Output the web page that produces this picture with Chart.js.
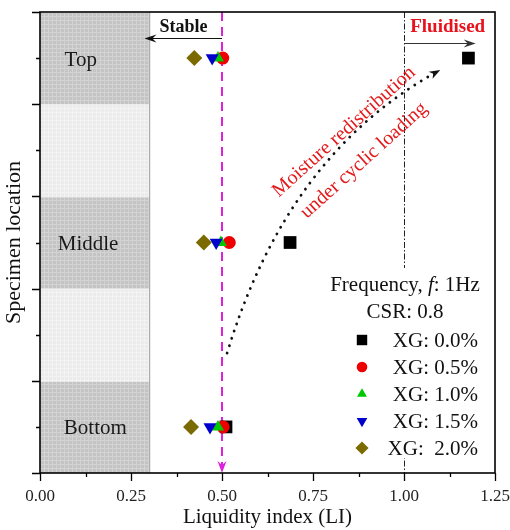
<!DOCTYPE html>
<html>
<head>
<meta charset="utf-8">
<script src="https://cdn.jsdelivr.net/npm/chart.js@4.4.0/dist/chart.umd.min.js"></script>
<style>
  html, body { margin: 0; padding: 0; background: #fff; }
</style>
</head>
<body>
<canvas id="chart" width="510" height="530"></canvas>
<script>
// 试样位置（y 值：带中心）
const locations = ['Bottom', 'Middle', 'Top'];
const locationY = [0.5, 2.5, 4.5];
const bandEdges = [0, 1, 2, 3, 4, 5];

// 各 XG 含量下的液性指数 (LI)，顺序: Bottom, Middle, Top
const seriesLabels = ['XG: 0.0%', 'XG: 0.5%', 'XG: 1.0%', 'XG: 1.5%', 'XG:  2.0%'];
const li00 = [0.511, 0.687, 1.177];
const li05 = [0.503, 0.520, 0.502];
const li10 = [0.489, 0.497, 0.489];
const li15 = [0.467, 0.484, 0.473];
const li20 = [0.415, 0.450, 0.424];

const xTicks = [0, 0.25, 0.5, 0.75, 1.0, 1.25];
const stableLimit = 0.3;   // 灰色区域右边界
const liPlastic = 0.5;     // 品红虚线
const liLiquid = 1.0;      // 点划线

const SERIF = '"Liberation Serif", "Times New Roman", serif';
const colors = ['#000000', '#ee0000', '#00c800', '#0000cc', '#7a6a00'];
const styles = ['rect', 'circle', 'triangle', 'triangle', 'rectRot'];
const rotations = [0, 0, 0, 180, 0];
const radii = [9, 6.5, 7, 7.5, 8];

const allSeries = [li00, li05, li10, li15, li20];

function toPoints(vals) {
    return vals.map((v, i) => ({ x: v, y: locationY[i] }));
}

// 网点纹理
function makePattern(ctx, base, line) {
    const c = document.createElement('canvas');
    c.width = 4; c.height = 4;
    const g = c.getContext('2d');
    g.fillStyle = base;
    g.fillRect(0, 0, 4, 4);
    g.fillStyle = line;
    g.fillRect(0, 0, 4, 1);
    g.fillRect(0, 0, 1, 4);
    return ctx.createPattern(c, 'repeat');
}

// 背景色带 + 参考线
const backgroundPlugin = {
    id: 'backgroundBands',
    beforeDatasetsDraw(chart) {
        const { ctx, chartArea: a, scales: { x, y } } = chart;
        ctx.save();
        const dark = makePattern(ctx, '#c4c4c4', '#d3d3d3');
        const light = makePattern(ctx, '#ebebeb', '#f3f3f3');
        const xr = x.getPixelForValue(stableLimit);
        for (let i = 0; i < bandEdges.length - 1; i++) {
            const y0 = y.getPixelForValue(bandEdges[i]);
            const y1 = y.getPixelForValue(bandEdges[i + 1]);
            ctx.fillStyle = i % 2 === 0 ? dark : light;
            ctx.fillRect(a.left, y1, xr - a.left, y0 - y1);
            ctx.strokeStyle = '#f2f2f2';
            ctx.lineWidth = 1;
            ctx.beginPath();
            ctx.moveTo(a.left, y1 + 0.5);
            ctx.lineTo(xr, y1 + 0.5);
            ctx.stroke();
        }
        ctx.strokeStyle = '#9a9a9a';
        ctx.beginPath();
        ctx.moveTo(xr + 0.5, a.top);
        ctx.lineTo(xr + 0.5, a.bottom);
        ctx.stroke();

        // 位置标签
        ctx.fillStyle = '#1a1a1a';
        ctx.font = '21px ' + SERIF;
        ctx.textAlign = 'center';
        ctx.textBaseline = 'middle';
        const labelX = [0.152, 0.132, 0.112];
        locations.forEach((name, i) => {
            ctx.fillText(name, x.getPixelForValue(labelX[i]), y.getPixelForValue(locationY[i]) + 2);
        });

        // LI = 1.0 点划线
        const x1 = Math.round(x.getPixelForValue(liLiquid)) + 0.5;
        ctx.strokeStyle = '#222';
        ctx.lineWidth = 1;
        ctx.setLineDash([6, 2, 1.5, 2]);
        ctx.beginPath();
        ctx.moveTo(x1, a.top);
        ctx.lineTo(x1, a.bottom);
        ctx.stroke();

        // LI = 0.5 品红虚线 + 箭头
        const xm = x.getPixelForValue(liPlastic);
        ctx.strokeStyle = '#dd22dd';
        ctx.lineWidth = 2;
        ctx.setLineDash([9, 6]);
        ctx.beginPath();
        ctx.moveTo(xm, a.top);
        ctx.lineTo(xm, a.bottom - 8);
        ctx.stroke();
        ctx.setLineDash([]);
        ctx.fillStyle = '#dd22dd';
        ctx.beginPath();
        ctx.moveTo(xm, a.bottom);
        ctx.lineTo(xm - 4.5, a.bottom - 12);
        ctx.lineTo(xm, a.bottom - 8);
        ctx.lineTo(xm + 4.5, a.bottom - 12);
        ctx.closePath();
        ctx.fill();

        // Stable / Fluidised 箭头
        const arrow = (fromV, toV, yv, color) => {
            const px0 = x.getPixelForValue(fromV), px1 = x.getPixelForValue(toV);
            const py = Math.round(y.getPixelForValue(yv)) + 0.5;
            const dir = Math.sign(px1 - px0);
            ctx.strokeStyle = color;
            ctx.fillStyle = color;
            ctx.lineWidth = 1.2;
            ctx.beginPath();
            ctx.moveTo(px0, py);
            ctx.lineTo(px1 - dir * 4, py);
            ctx.stroke();
            ctx.beginPath();
            ctx.moveTo(px1, py);
            ctx.lineTo(px1 - dir * 12, py - 4);
            ctx.lineTo(px1 - dir * 8, py);
            ctx.lineTo(px1 - dir * 12, py + 4);
            ctx.closePath();
            ctx.fill();
        };
        arrow(liPlastic, 0.287, 4.72, '#111');
        arrow(liLiquid, 1.197, 4.665, '#333');

        ctx.textBaseline = 'middle';
        ctx.font = 'bold 18px ' + SERIF;
        ctx.fillStyle = '#111';
        ctx.fillText('Stable', x.getPixelForValue(0.394), y.getPixelForValue(4.83));
        ctx.font = 'bold 19px ' + SERIF;
        ctx.fillStyle = '#e8121c';
        ctx.fillText('Fluidised', x.getPixelForValue(1.12), y.getPixelForValue(4.84));

        // 含水率重分布虚线曲线
        const p0 = { x: x.getPixelForValue(0.514), y: y.getPixelForValue(1.30) };
        const pc = { x: x.getPixelForValue(0.679), y: y.getPixelForValue(3.455) };
        const p2 = { x: x.getPixelForValue(1.09), y: y.getPixelForValue(4.35) };
        ctx.strokeStyle = '#111';
        ctx.lineWidth = 2.8;
        ctx.lineCap = 'round';
        ctx.setLineDash([0.1, 7.5]);
        ctx.beginPath();
        ctx.moveTo(p0.x, p0.y);
        ctx.quadraticCurveTo(pc.x, pc.y, p2.x, p2.y);
        ctx.stroke();
        ctx.setLineDash([]);
        const ang = Math.atan2(p2.y - pc.y, p2.x - pc.x);
        ctx.translate(p2.x, p2.y);
        ctx.rotate(ang);
        ctx.fillStyle = '#111';
        ctx.beginPath();
        ctx.moveTo(4, 0);
        ctx.lineTo(-7, -4);
        ctx.lineTo(-4, 0);
        ctx.lineTo(-7, 4);
        ctx.closePath();
        ctx.fill();
        ctx.setTransform(1, 0, 0, 1, 0, 0);

        // 旋转红字
        ctx.fillStyle = '#e41a1c';
        ctx.font = '20px ' + SERIF;
        const rot = -42 * Math.PI / 180;
        [['Moisture redistribution', 0.835, 3.70], ['under cyclic loading', 0.89, 3.39]].forEach(([t, xv, yv]) => {
            ctx.save();
            ctx.translate(x.getPixelForValue(xv), y.getPixelForValue(yv));
            ctx.rotate(rot);
            ctx.fillText(t, 0, 0);
            ctx.restore();
        });
        ctx.restore();
    }
};

function drawMarker(ctx, style, rotation, r, cx, cy, color) {
    ctx.save();
    ctx.fillStyle = color;
    ctx.translate(cx, cy);
    ctx.rotate(rotation * Math.PI / 180);
    ctx.beginPath();
    if (style === 'rect') {
        const s = r * Math.SQRT1_2;
        ctx.rect(-s, -s, 2 * s, 2 * s);
    } else if (style === 'circle') {
        ctx.arc(0, 0, r, 0, Math.PI * 2);
    } else if (style === 'triangle') {
        ctx.moveTo(0, -r);
        ctx.lineTo(r * Math.sin(Math.PI / 3), r / 2);
        ctx.lineTo(-r * Math.sin(Math.PI / 3), r / 2);
        ctx.closePath();
    } else {
        ctx.moveTo(0, -r);
        ctx.lineTo(r, 0);
        ctx.lineTo(0, r);
        ctx.lineTo(-r, 0);
        ctx.closePath();
    }
    ctx.fill();
    ctx.restore();
}

// 图例、刻度与边框
const framePlugin = {
    id: 'frameAndLegend',
    afterDatasetsDraw(chart) {
        const { ctx, chartArea: a, scales: { x, y } } = chart;
        ctx.save();
        // 图例白底
        ctx.fillStyle = '#fff';
        ctx.fillRect(a.right - 175, a.bottom - 205, 173, 190);

        ctx.fillStyle = '#111';
        ctx.textBaseline = 'middle';
        const cx = a.right - 90;
        const h1y = a.bottom - 188;
        const parts = [['Frequency, ', ''], ['f', 'italic '], [': 1Hz', '']];
        let total = 0;
        parts.forEach(([t, s]) => { ctx.font = s + '21px ' + SERIF; total += ctx.measureText(t).width; });
        let px = cx - total / 2;
        ctx.textAlign = 'left';
        parts.forEach(([t, s]) => {
            ctx.font = s + '21px ' + SERIF;
            ctx.fillText(t, px, h1y);
            px += ctx.measureText(t).width;
        });
        ctx.font = '21px ' + SERIF;
        ctx.textAlign = 'center';
        ctx.fillText('CSR: 0.8', cx, a.bottom - 161);

        ctx.textAlign = 'right';
        chart.data.datasets.forEach((ds, i) => {
            const ly = a.bottom - 133 + i * 27;
            drawMarker(ctx, styles[i], rotations[i], radii[i] * 0.82, a.right - 133, ly, colors[i]);
            ctx.fillStyle = '#111';
            ctx.fillText(ds.label, a.right - 17, ly + 1);
        });

        // 刻度
        ctx.strokeStyle = '#000';
        ctx.lineWidth = 1.3;
        ctx.beginPath();
        for (let v = 0; v <= 1.25 + 1e-9; v += 0.125) {
            const p = Math.round(x.getPixelForValue(v)) + 0.5;
            const major = Math.abs(v / 0.25 - Math.round(v / 0.25)) < 1e-6;
            ctx.moveTo(p, a.bottom);
            ctx.lineTo(p, a.bottom + (major ? 8 : 4));
        }
        for (let v = 0; v <= 5 + 1e-9; v += 0.5) {
            const p = Math.round(y.getPixelForValue(v)) + 0.5;
            const major = Number.isInteger(v);
            ctx.moveTo(a.left, p);
            ctx.lineTo(a.left - (major ? 8 : 4), p);
        }
        ctx.stroke();
        ctx.lineWidth = 1.6;
        ctx.strokeRect(a.left, a.top, a.right - a.left, a.bottom - a.top);
        ctx.restore();
    }
};

const datasets = allSeries.map((vals, i) => ({
    label: seriesLabels[i],
    data: toPoints(vals),
    backgroundColor: colors[i],
    borderColor: colors[i],
    borderWidth: 0,
    pointStyle: styles[i],
    rotation: rotations[i],
    pointRadius: radii[i],
    order: allSeries.length - i
}));

new Chart(document.getElementById('chart'), {
    type: 'scatter',
    data: { datasets },
    options: {
        responsive: false,
        animation: false,
        events: [],
        layout: { padding: { top: 12, right: 15, left: 0, bottom: 0 } },
        scales: {
            x: {
                type: 'linear',
                min: 0,
                max: 1.25,
                afterBuildTicks: (s) => { s.ticks = xTicks.map(v => ({ value: v })); },
                afterFit: (s) => { s.height = 57; s.paddingRight = 0; s.paddingLeft = 0; },
                grid: { display: false, drawTicks: false },
                border: { display: false },
                ticks: {
                    padding: 13,
                    autoSkip: false,
                    maxRotation: 0,
                    color: '#222',
                    font: { family: SERIF, size: 17 },
                    callback: (v) => Number(v).toFixed(2)
                },
                title: {
                    display: true,
                    text: 'Liquidity index (LI)',
                    color: '#111',
                    font: { family: SERIF, size: 21 },
                    padding: { top: 3, bottom: 0 }
                }
            },
            y: {
                type: 'linear',
                min: 0,
                max: 5,
                afterFit: (s) => { s.width = 40; s.paddingTop = 0; s.paddingBottom = 0; },
                grid: { display: false, drawTicks: false },
                border: { display: false },
                ticks: { display: false, stepSize: 0.5 },
                title: {
                    display: true,
                    text: 'Specimen location',
                    color: '#111',
                    font: { family: SERIF, size: 22 },
                    padding: { top: 1, bottom: 0 }
                }
            }
        },
        plugins: {
            legend: { display: false },
            tooltip: { enabled: false }
        }
    },
    plugins: [backgroundPlugin, framePlugin]
});
</script>
</body>
</html>
